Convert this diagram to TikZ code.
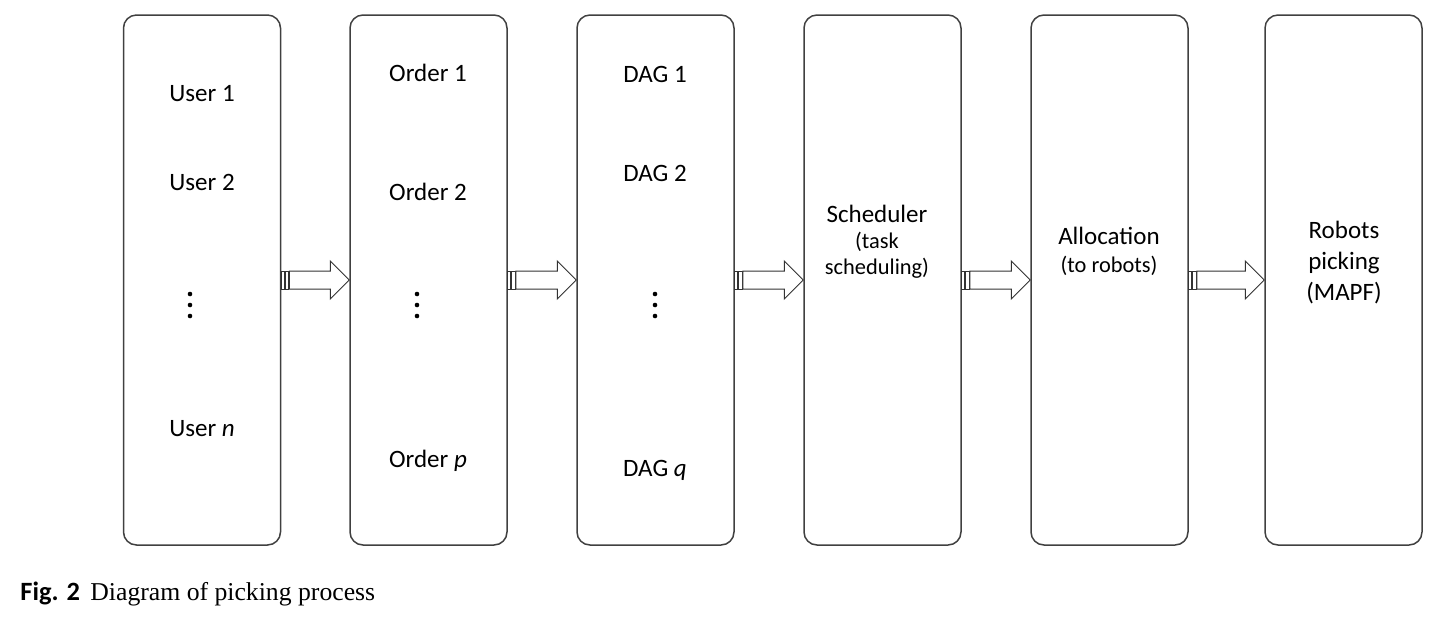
\documentclass[tikz,border=0pt]{standalone}
\usepackage{fontspec}
\setmainfont{Carlito}
\newfontfamily\capfont{Liberation Serif}
\usetikzlibrary{calc}

\tikzset{
  stage/.style={draw=black!75, line width=0.75pt, rounded corners=6.5pt,
    minimum width=78.5pt, minimum height=265pt, inner sep=0pt},
  label/.style={font=\fontsize{12.5}{14}\selectfont, anchor=base, inner sep=0pt},
  small/.style={font=\fontsize{11.2}{13}\selectfont, anchor=base, inner sep=0pt},
  flow/.style={draw=black!80, line width=0.5pt, fill=white},
  vdot/.style={fill=black, draw=none}
}
% striped block arrow between two stage boxes
\newcommand{\blockarrow}[2]{%
  \draw[flow] ($(#1.east)+(0,-9)$) rectangle ($(#1.east)+(3,9)$);
  \draw[flow] ($(#1.east)+(4,-9)$) rectangle ($(#1.east)+(7.5,9)$);
  \draw[flow] ($(#1.east)+(8,-9)$) -- ($(#2.west)+(-19,-9)$) -- ($(#2.west)+(-19,-19)$)
    -- (#2.west) -- ($(#2.west)+(-19,19)$) -- ($(#2.west)+(-19,9)$)
    -- ($(#1.east)+(8,9)$) -- cycle;
}

\begin{document}
\begin{tikzpicture}[x=0.5pt, y=-0.5pt]
\useasboundingbox (0,0) rectangle (1441,618);

\node[stage] (users) at (202,280) {};
\node[stage] (orders) at (428.5,280) {};
\node[stage] (dags) at (655.5,280) {};
\node[stage] (sched) at (882.5,280) {};
\node[stage] (alloc) at (1109.5,280) {};
\node[stage] (robots) at (1343.5,280) {};

\blockarrow{users}{orders}
\blockarrow{orders}{dags}
\blockarrow{dags}{sched}
\blockarrow{sched}{alloc}
\blockarrow{alloc}{robots}

% users
\node[label] (user1) at (202,101) {User 1};
\node[label] (user2) at (202,190) {User 2};
\node[label] (usern) at (202,436) {User \textit{n}};
% orders
\node[label] (order1) at (428,81) {Order 1};
\node[label] (order2) at (428,200) {Order 2};
\node[label] (orderp) at (428,467) {Order \textit{p}};
% dags
\node[label] (dag1) at (655,82) {DAG 1};
\node[label] (dag2) at (655,181) {DAG 2};
\node[label] (dagq) at (655,476) {DAG \textit{q}};
% dots
\foreach \x in {190,417,655}
  \foreach \y in {294,305,316}
    \fill[vdot] (\x,\y) circle (2.3);

\node[label] (schedA) at (877,222) {Scheduler};
\node[small] (schedB) at (877,248) {(task};
\node[small] (schedC) at (877,274) {scheduling)};

\node[label] (allocA) at (1109,244) {Allocation};
\node[small] (allocB) at (1109,272) {(to robots)};

\node[label] (robotsA) at (1344,238) {Robots};
\node[label] (robotsB) at (1344,269) {picking};
\node[label] (robotsC) at (1344,300) {(MAPF)};

\node[anchor=base west, inner sep=0pt, font=\fontsize{13.2}{15}\selectfont\bfseries] (fig) at (20,600) {Fig. 2};
\node[anchor=base west, inner sep=0pt, font=\capfont\fontsize{12.85}{15}\selectfont] (cap) at (90,600) {Diagram of picking process};
\end{tikzpicture}
\end{document}
